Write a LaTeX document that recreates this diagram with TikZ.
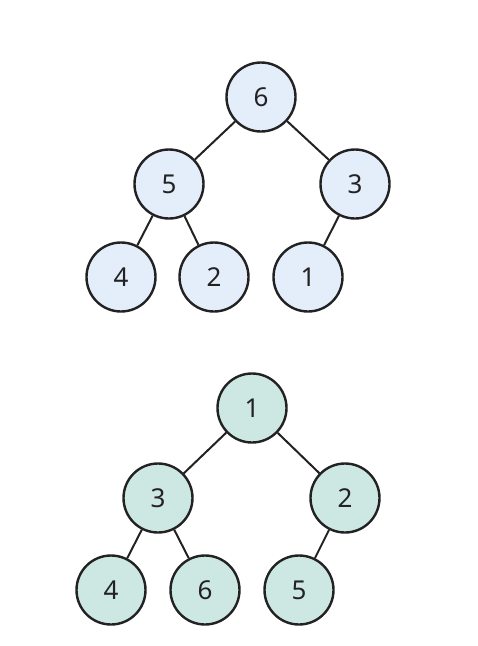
\documentclass[tikz,border=0pt]{standalone}
\usepackage{fontspec}
\setmainfont{Noto Sans}
\usepackage{tikz}
\usetikzlibrary{positioning}
\definecolor{ink}{HTML}{222222}
\definecolor{skyfill}{HTML}{E4EEFA}
\definecolor{mintfill}{HTML}{CDE8E2}

\begin{document}
\begin{tikzpicture}[x=1pt,y=-1pt,font=\fontsize{26}{30}\selectfont,
  heapnode/.style={circle,draw=ink,line width=2.4pt,minimum size=69pt,
    inner sep=0pt,text=ink},
  maxnode/.style={heapnode,fill=skyfill},
  minnode/.style={heapnode,fill=mintfill},
  heapedge/.style={draw=ink,line width=2pt}]
  \useasboundingbox (0,0) rectangle (478,646);

  % max heap
  \node[maxnode] (max6) at (261,97) {6};
  \node[maxnode] (max5) at (169,184) {5};
  \node[maxnode] (max3) at (355,184) {3};
  \node[maxnode] (max4) at (121,277) {4};
  \node[maxnode] (max2) at (214,277) {2};
  \node[maxnode] (max1) at (308,277) {1};
  \draw[heapedge] (max6) -- (max5);
  \draw[heapedge] (max6) -- (max3);
  \draw[heapedge] (max5) -- (max4);
  \draw[heapedge] (max5) -- (max2);
  \draw[heapedge] (max3) -- (max1);

  % min heap
  \node[minnode] (min1) at (252,408) {1};
  \node[minnode] (min3) at (158,498) {3};
  \node[minnode] (min2) at (345,498) {2};
  \node[minnode] (min4) at (111,590) {4};
  \node[minnode] (min6) at (205,590) {6};
  \node[minnode] (min5) at (299,590) {5};
  \draw[heapedge] (min1) -- (min3);
  \draw[heapedge] (min1) -- (min2);
  \draw[heapedge] (min3) -- (min4);
  \draw[heapedge] (min3) -- (min6);
  \draw[heapedge] (min2) -- (min5);
\end{tikzpicture}
\end{document}
